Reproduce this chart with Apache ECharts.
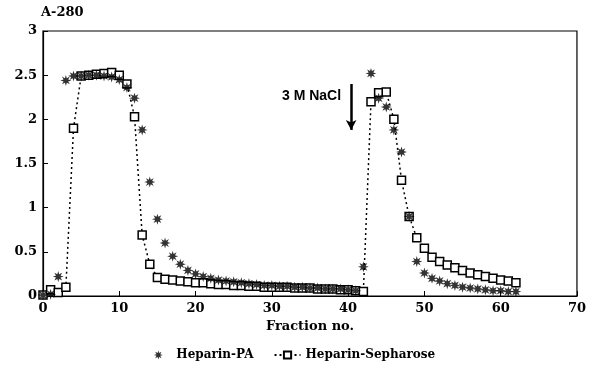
<!DOCTYPE html>
<html>
<head>
<meta charset="utf-8">
<script src="https://cdn.jsdelivr.net/npm/echarts@6/dist/echarts.min.js"></script>
<style>
  html, body { margin: 0; padding: 0; background: #fff; }
  #chart { width: 589px; height: 380px; }
</style>
</head>
<body>
<div id="chart"></div>
<script>
// fraction numbers 0..62
const fractions = [
  0, 1, 2, 3, 4, 5, 6, 7, 8, 9, 10, 11, 12, 13, 14, 15, 16, 17, 18, 19, 20,
  21, 22, 23, 24, 25, 26, 27, 28, 29, 30, 31, 32, 33, 34, 35, 36, 37, 38, 39, 40,
  41, 42, 43, 44, 45, 46, 47, 48, 49, 50, 51, 52, 53, 54, 55, 56, 57, 58, 59, 60,
  61, 62
];

// A-280, Heparin-PA (stars)
const heparinPA = [
  0.01, 0.02, 0.22, 2.44, 2.49, 2.49, 2.50, 2.50, 2.49, 2.48, 2.45, 2.36, 2.24, 1.88, 1.29, 0.87, 0.60, 0.45, 0.36, 0.29, 0.25,
  0.22, 0.20, 0.18, 0.17, 0.16, 0.15, 0.14, 0.13, 0.12, 0.12, 0.11, 0.11, 0.10, 0.10, 0.09, 0.09, 0.08, 0.08, 0.08, 0.07,
  0.06, 0.33, 2.52, 2.24, 2.14, 1.88, 1.63, 0.90, 0.39, 0.26, 0.20, 0.17, 0.14, 0.12, 0.10, 0.09, 0.08, 0.07, 0.06, 0.06,
  0.05, 0.05
];

// A-280, Heparin-Sepharose (open squares, dotted line)
const heparinSepharose = [
  0.01, 0.07, 0.04, 0.10, 1.90, 2.49, 2.50, 2.51, 2.52, 2.53, 2.50, 2.40, 2.03, 0.69, 0.36, 0.21, 0.19, 0.18, 0.17, 0.16, 0.15,
  0.15, 0.14, 0.13, 0.13, 0.12, 0.12, 0.11, 0.11, 0.10, 0.10, 0.10, 0.10, 0.09, 0.09, 0.09, 0.08, 0.08, 0.08, 0.07, 0.07,
  0.06, 0.05, 2.20, 2.30, 2.31, 2.00, 1.31, 0.90, 0.66, 0.54, 0.44, 0.39, 0.35, 0.32, 0.29, 0.26, 0.24, 0.22, 0.20, 0.18,
  0.17, 0.15
];

const xTicks = [0, 10, 20, 30, 40, 50, 60, 70];
const yTicks = [0, 0.5, 1, 1.5, 2, 2.5, 3];

// 3 M NaCl arrow (fraction, A-280)
const arrowFrom = [40.4, 2.40];
const arrowTo = [40.4, 1.88];

// asterisk-like 8 point star
const STAR = 'path://M20 10 L14.2 11.7 L17.07 17.07 L11.7 14.2 L10 20 L8.3 14.2 L2.93 17.07 L5.8 11.7 L0 10 L5.8 8.3 L2.93 2.93 L8.3 5.8 L10 0 L11.7 5.8 L17.07 2.93 L14.2 8.3 Z';
const SERIF = '"DejaVu Serif", "Liberation Serif", serif';

const chart = echarts.init(document.getElementById('chart'), null, { renderer: 'canvas' });

chart.setOption({
  animation: false,
  backgroundColor: '#fff',
  grid: { left: 43, right: 9, top: 31, bottom: 84, show: true, borderColor: '#000', borderWidth: 1.2 },
  legend: {
    bottom: 14,
    left: 'center',
    itemGap: 20,
    itemWidth: 26,
    itemHeight: 9,
    textStyle: { fontFamily: SERIF, fontWeight: 'bold', fontSize: 12, color: '#000' },
    data: ['Heparin-PA', 'Heparin-Sepharose']
  },
  xAxis: {
    type: 'value',
    min: xTicks[0],
    max: xTicks[xTicks.length - 1],
    interval: 10,
    name: 'Fraction no.',
    nameLocation: 'middle',
    nameGap: 23,
    nameTextStyle: { fontFamily: SERIF, fontWeight: 'bold', fontSize: 13, color: '#000' },
    axisLine: { lineStyle: { color: '#000', width: 1.2 } },
    axisTick: { inside: true, length: 5, lineStyle: { color: '#000' } },
    axisLabel: { fontFamily: SERIF, fontWeight: 'bold', fontSize: 13, color: '#000', margin: 6 },
    splitLine: { show: false }
  },
  yAxis: {
    type: 'value',
    min: yTicks[0],
    max: yTicks[yTicks.length - 1],
    interval: 0.5,
    name: 'A-280',
    nameLocation: 'end',
    nameGap: 12,
    nameTextStyle: { fontFamily: SERIF, fontWeight: 'bold', fontSize: 13, color: '#000', align: 'left', padding: [0, 0, 0, -2] },
    axisLine: { lineStyle: { color: '#000', width: 1.2 } },
    axisTick: { inside: true, length: 5, lineStyle: { color: '#000' } },
    axisLabel: { fontFamily: SERIF, fontWeight: 'bold', fontSize: 13, color: '#000', margin: 6 },
    splitLine: { show: false }
  },
  graphic: [{
    type: 'text',
    left: 282,
    top: 89,
    style: { text: '3 M NaCl', fontFamily: '"Liberation Sans", Arial, sans-serif', fontWeight: 'bold', fontSize: 14, fill: '#000' }
  }],
  series: [
    {
      name: 'Heparin-PA',
      type: 'scatter',
      symbol: STAR,
      symbolSize: 11,
      itemStyle: { color: '#000' },
      data: fractions.map((f, i) => [f, heparinPA[i]]),
      z: 3,
      markLine: {
        silent: true,
        symbol: ['none', 'arrow'],
        symbolSize: [8, 10],
        lineStyle: { color: '#000', width: 2.5, type: 'solid' },
        label: { show: false },
        data: [[{ coord: arrowFrom }, { coord: arrowTo }]]
      }
    },
    {
      name: 'Heparin-Sepharose',
      type: 'line',
      symbol: 'rect',
      symbolSize: 8,
      showAllSymbol: true,
      lineStyle: { color: '#000', width: 1.5, type: [2, 3] },
      itemStyle: { color: '#fff', borderColor: '#000', borderWidth: 1.5 },
      data: fractions.map((f, i) => [f, heparinSepharose[i]]),
      z: 2
    }
  ]
});
</script>
</body>
</html>
